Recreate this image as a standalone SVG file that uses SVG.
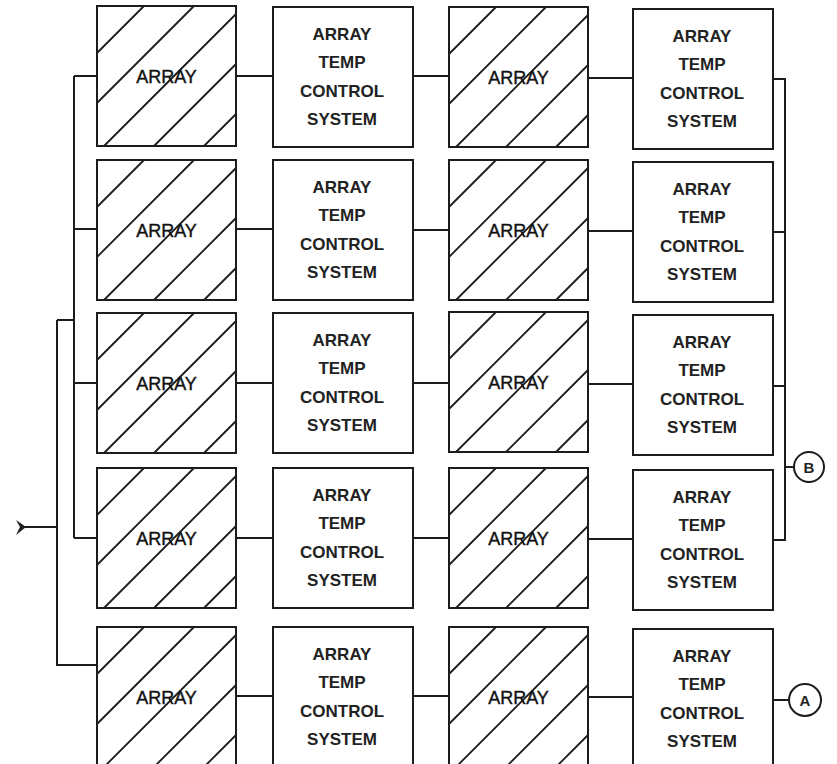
<svg xmlns="http://www.w3.org/2000/svg" xmlns:xlink="http://www.w3.org/1999/xlink" width="837" height="764" viewBox="0 0 837 764">
<style>
.b{fill:#fff;stroke:#1c1c1c;stroke-width:2}
.h{stroke:#1c1c1c;stroke-width:1.8;fill:none}
.c{stroke:#1c1c1c;stroke-width:2;fill:none}
.at{font-family:"Liberation Sans",Arial,sans-serif;font-size:18px;fill:#111;stroke:#111;stroke-width:0.4;text-anchor:middle}
.ct{font-family:"Liberation Sans",Arial,sans-serif;font-size:17px;font-weight:bold;fill:#222;text-anchor:middle}
.lt{font-family:"Liberation Sans",Arial,sans-serif;font-size:15px;font-weight:bold;fill:#222;text-anchor:middle}
</style>
<defs>
<g id="arr">
<rect class="b" x="0" y="0" width="139" height="140"/>
<path class="h" d="M0 47L47 0M0 97L97 0M7 140L139 8M57 140L139 58M107 140L139 108"/>
<text class="at" x="69.5" y="77">ARRAY</text>
</g>
<g id="ctl">
<rect class="b" x="0" y="0" width="140" height="140"/>
<text class="ct" x="69" y="33">ARRAY</text>
<text class="ct" x="69" y="61">TEMP</text>
<text class="ct" x="69" y="90">CONTROL</text>
<text class="ct" x="69" y="118">SYSTEM</text>
</g>
</defs>
<g id="connectors">
<path class="c" d="M25 527H57M57 320V665H97M57 320H74M74 76V538M74 76H97M74 229H97M74 383H97M74 538H97"/>
<path class="c" d="M236 76H273M413 76H449M588 78H633M772 79H785V540H772M772 232H785M772 386H785M785 467H794"/>
<path class="c" d="M236 229H273M413 230H449M588 231H633"/>
<path class="c" d="M236 383H273M413 383H449M588 384H633"/>
<path class="c" d="M236 538H273M413 538H449M588 539H633"/>
<path class="c" d="M236 696H273M413 696H449M588 697H633M772 700H789"/>
<path d="M16 520L26 527L16 535L20 527Z" fill="#1c1c1c"/>
</g>
<g id="r1c1"><use xlink:href="#arr" x="97" y="6"/></g>
<g id="r1c2"><use xlink:href="#ctl" x="273" y="7"/></g>
<g id="r1c3"><use xlink:href="#arr" x="449" y="7"/></g>
<g id="r1c4"><use xlink:href="#ctl" x="633" y="9"/></g>
<g id="r2c1"><use xlink:href="#arr" x="97" y="160"/></g>
<g id="r2c2"><use xlink:href="#ctl" x="273" y="160"/></g>
<g id="r2c3"><use xlink:href="#arr" x="449" y="160"/></g>
<g id="r2c4"><use xlink:href="#ctl" x="633" y="162"/></g>
<g id="r3c1"><use xlink:href="#arr" x="97" y="313"/></g>
<g id="r3c2"><use xlink:href="#ctl" x="273" y="313"/></g>
<g id="r3c3"><use xlink:href="#arr" x="449" y="312"/></g>
<g id="r3c4"><use xlink:href="#ctl" x="633" y="315"/></g>
<g id="r4c1"><use xlink:href="#arr" x="97" y="468"/></g>
<g id="r4c2"><use xlink:href="#ctl" x="273" y="468"/></g>
<g id="r4c3"><use xlink:href="#arr" x="449" y="468"/></g>
<g id="r4c4"><use xlink:href="#ctl" x="633" y="470"/></g>
<g id="r5c1"><use xlink:href="#arr" x="97" y="627"/></g>
<g id="r5c2"><use xlink:href="#ctl" x="273" y="627"/></g>
<g id="r5c3"><use xlink:href="#arr" x="449" y="627"/></g>
<g id="r5c4"><use xlink:href="#ctl" x="633" y="629"/></g>
<g id="B"><circle class="b" cx="809" cy="467" r="15"/><text class="lt" x="809" y="473">B</text></g>
<g id="A"><circle class="b" cx="805" cy="700" r="16"/><text class="lt" x="805" y="706">A</text></g>
</svg>
